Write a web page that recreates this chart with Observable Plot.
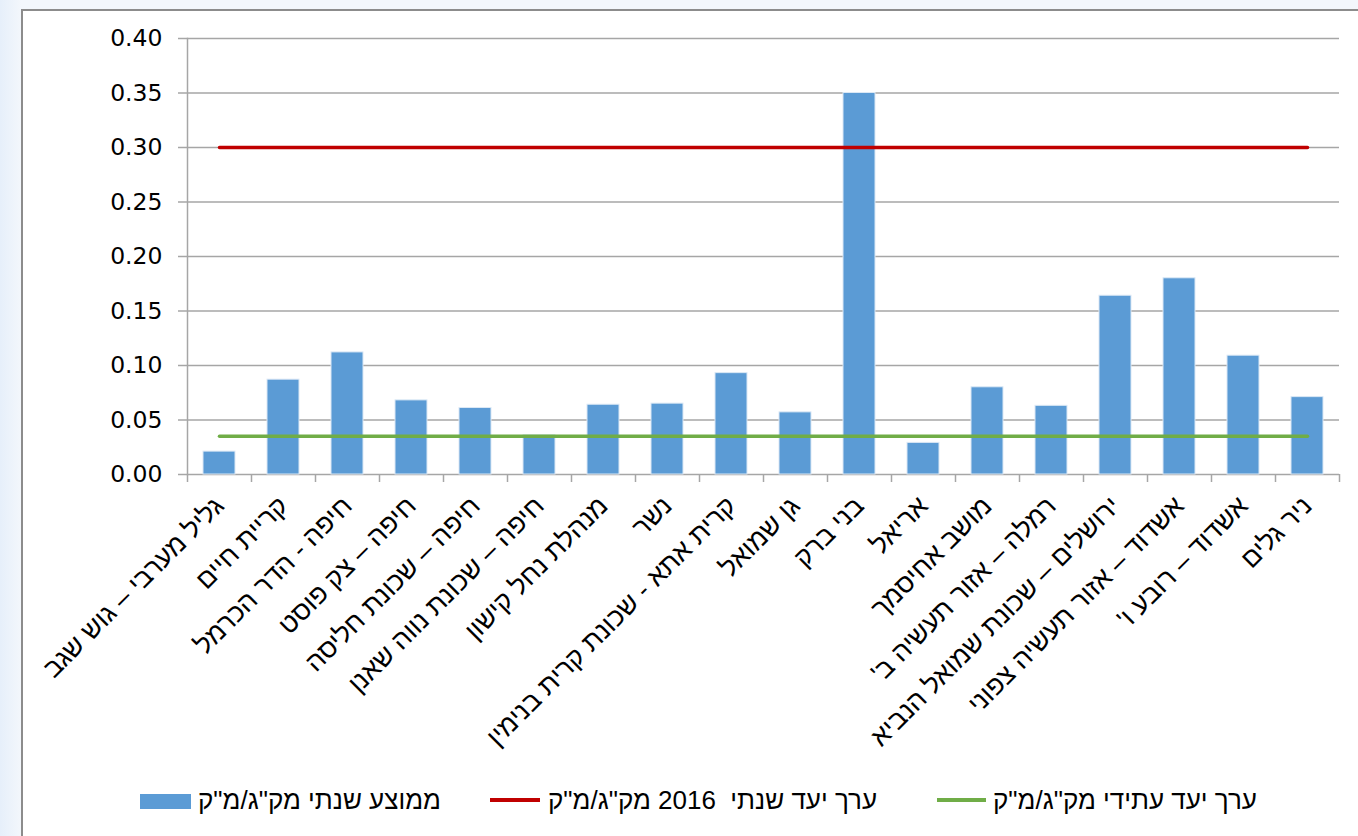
<!DOCTYPE html>
<html>
<head>
<meta charset="utf-8">
<script src="https://cdn.jsdelivr.net/npm/d3@7"></script>
<script src="https://cdn.jsdelivr.net/npm/@observablehq/plot@0.6"></script>
<style>
  html, body { margin: 0; padding: 0; }
  body { width: 1358px; height: 836px; overflow: hidden; position: relative;
         background: linear-gradient(90deg, #e6effa 0px, #f3f7fc 21px, #f3f7fc 100%); }
  #frame { position: absolute; left: 21px; top: 9px; width: 1400px; height: 900px;
           background: #fff; border-left: 2px solid #8c8c8c; border-top: 2px solid #8c8c8c; }
  #chart { position: absolute; left: 0; top: 0; }
  .sw { position: absolute; }
  .lt { position: absolute; top: 785px; font-family: "Liberation Sans", Arial, sans-serif;
        font-size: 26px; line-height: 30px; color: #000; white-space: pre; direction: rtl; unicode-bidi: embed; }
</style>
</head>
<body>
<div id="frame"></div>
<div id="chart"></div>
<div class="sw" style="left:140px;top:794px;width:51px;height:15px;background:#5B9BD5;"></div>
<div class="lt" id="l1" style="left:198px;"></div>
<div class="sw" style="left:490px;top:798px;width:50px;height:4px;background:#C00000;"></div>
<div class="lt" id="l2" style="left:548px;"></div>
<div class="sw" style="left:937px;top:798px;width:49px;height:4px;background:#70AD47;"></div>
<div class="lt" id="l3" style="left:993px;"></div>
<script>
const categories = [
  "גליל מערבי – גוש שגב",
  "קריית חיים",
  "חיפה - הדר הכרמל",
  "חיפה – צק פוסט",
  "חיפה – שכונת חליסה",
  "חיפה – שכונת נווה שאנן",
  "מנהלת נחל קישון",
  "נשר",
  "קרית אתא - שכונת קרית בנימין",
  "גן שמואל",
  "בני ברק",
  "אריאל",
  "מושב אחיסמך",
  "רמלה – אזור תעשיה ב'",
  "ירושלים – שכונת שמואל הנביא",
  "אשדוד – אזור תעשיה צפוני",
  "אשדוד – רובע ו'",
  "ניר גלים"
];
const annualMean = [0.021, 0.087, 0.112, 0.068, 0.061, 0.036, 0.064, 0.065, 0.093, 0.057, 0.350, 0.029, 0.080, 0.063, 0.164, 0.180, 0.109, 0.071];
const target2016 = 0.30;
const futureTarget = 0.035;
const yTicks = [0, 0.05, 0.10, 0.15, 0.20, 0.25, 0.30, 0.35, 0.40];
const legendLabels = ["ממוצע שנתי מק\"ג/מ\"ק", "ערך יעד שנתי  2016 מק\"ג/מ\"ק", "ערך יעד עתידי מק\"ג/מ\"ק"];

const bars = categories.map((c, i) => ({site: c, value: annualMean[i]}));
const redLine = categories.map(c => ({site: c, value: target2016}));
const greenLine = categories.map(c => ({site: c, value: futureTarget}));

const grey = "#a6a6a6";
const RLM = "\u200F";
const chart = Plot.plot({
  width: 1358,
  height: 770,
  marginLeft: 187,
  marginRight: 19,
  marginTop: 38,
  marginBottom: 296,
  style: {background: "transparent", color: "#000", fontFamily: "DejaVu Sans, sans-serif", fontSize: "22px"},
  x: {domain: categories, paddingInner: 0.5, paddingOuter: 0.25, label: null},
  y: {domain: [0, 0.4], label: null},
  marks: [
    Plot.gridY(yTicks, {stroke: grey, strokeOpacity: 1, strokeWidth: 1.5}),
    Plot.frame({anchor: "left", stroke: grey, strokeWidth: 1.5}),
    Plot.axisY({ticks: yTicks, tickSize: 9, tickPadding: 16, tickFormat: d3.format(".2f"),
                stroke: grey, strokeWidth: 1.5, fontSize: 23.5, fontFamily: "DejaVu Sans, sans-serif", label: null}),
    Plot.axisX({tickSize: 8, tickFormat: () => "", dx: -32, stroke: grey, strokeWidth: 1.5, label: null}),
    Plot.axisX({ticks: [categories[categories.length - 1]], tickSize: 8, tickFormat: () => "", dx: 32, stroke: grey, strokeWidth: 1.5, label: null}),
    Plot.axisX({tickSize: 0, tickRotate: -45, tickPadding: 27, fontSize: 26.5,
                tickFormat: d => d + RLM,
                fontFamily: "Liberation Sans, Arial, sans-serif", label: null}),
    Plot.barY(bars, {x: "site", y: "value", fill: "#5B9BD5", stroke: "#dbe8f5", strokeWidth: 1}),
    Plot.lineY(redLine, {x: "site", y: "value", stroke: "#C00000", strokeWidth: 3.5}),
    Plot.lineY(greenLine, {x: "site", y: "value", stroke: "#70AD47", strokeWidth: 3.5})
  ]
});
document.getElementById("chart").appendChild(chart);
document.getElementById("l1").textContent = legendLabels[0];
document.getElementById("l2").textContent = legendLabels[1];
document.getElementById("l3").textContent = legendLabels[2];
</script>
</body>
</html>
